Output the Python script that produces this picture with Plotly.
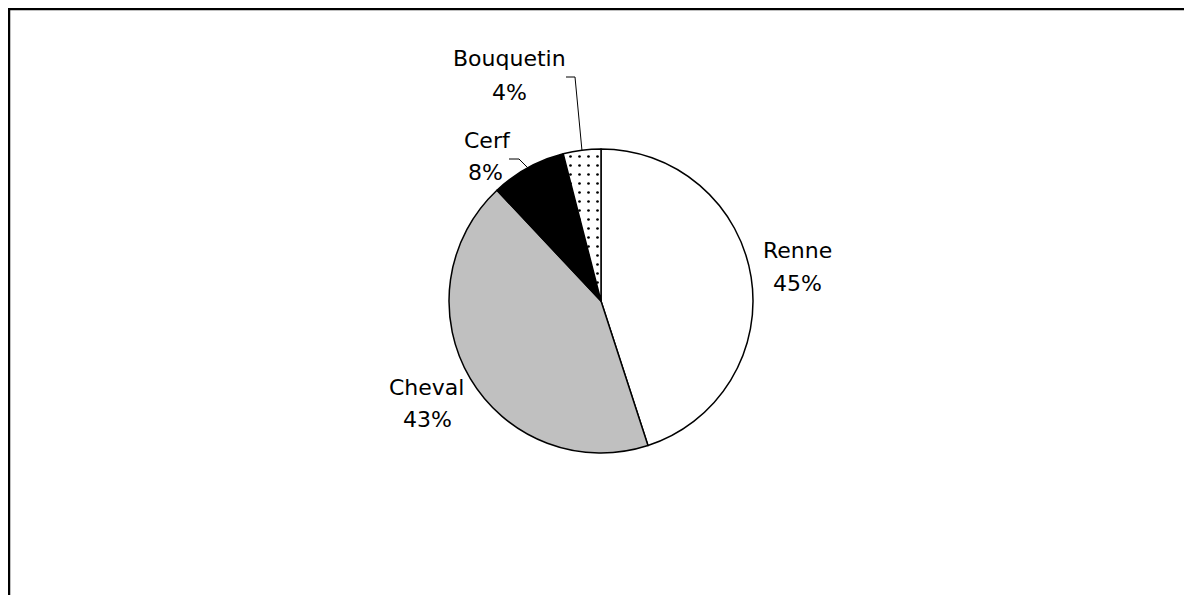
import math
import plotly.graph_objects as go

# ---- data ----
categories = ["Renne", "Cheval", "Cerf", "Bouquetin"]
values = [45, 43, 8, 4]
colors = ["#ffffff", "#c0c0c0", "#000000", "#ffffff"]
patterns = ["", "", "", "."]

W, H = 1192, 595
OFF = 8  # page body margin: screen px -> paper px
CX, CY, R = 601, 301, 152  # pie centre / radius in screen px


def px(x):
    return (x - OFF) / W


def py(y):
    return 1 - (y - OFF) / H


fig = go.Figure(go.Pie(
    labels=categories,
    values=values,
    sort=False,
    direction="clockwise",
    rotation=0,
    textinfo="none",
    hoverinfo="label+percent",
    marker=dict(
        colors=colors,
        line=dict(color="black", width=1.5),
        pattern=dict(shape=patterns, fgcolor="black", size=9, solidity=0.07),
    ),
    domain=dict(x=[px(CX - R), px(CX + R)], y=[py(CY + R), py(CY - R)]),
    showlegend=False,
))

# label positions (screen px): name centre, percent centre
label_pos = {
    "Renne": ((797, 250), (797, 283)),
    "Cheval": ((426, 387), (427, 419)),
    "Cerf": ((487, 140), (485, 172)),
    "Bouquetin": ((509, 58), (509, 93)),
}
font = dict(family="DejaVu Sans, Arial, sans-serif", size=22, color="black")
total = sum(values)
annotations = []
for cat, v in zip(categories, values):
    (nx, ny), (vx, vy) = label_pos[cat]
    pct = round(100 * v / total)
    annotations.append(dict(x=px(nx), y=py(ny), xref="paper", yref="paper",
                            text=cat, showarrow=False, font=font,
                            xanchor="center", yanchor="middle"))
    annotations.append(dict(x=px(vx), y=py(vy), xref="paper", yref="paper",
                            text=f"{pct}%", showarrow=False, font=font,
                            xanchor="center", yanchor="middle"))

# leader lines for small slices, ending at slice mid-angle on the rim
shapes = []
cum = 0
leader_start = {"Cerf": ((509, 159), (519, 159)), "Bouquetin": ((566, 77), (575, 77))}
for cat, v in zip(categories, values):
    mid = (cum + v / 2) / total * 2 * math.pi
    cum += v
    if cat in leader_start:
        ex = CX + R * math.sin(mid)
        ey = CY - R * math.cos(mid)
        (ax, ay), (bx, by) = leader_start[cat]
        path = f"M {px(ax)},{py(ay)} L {px(bx)},{py(by)} L {px(ex)},{py(ey)}"
        shapes.append(dict(type="path", xref="paper", yref="paper", path=path,
                           line=dict(color="black", width=1)))

# outer chart border (top & left visible)
shapes.append(dict(type="rect", xref="paper", yref="paper",
                   x0=px(9), y0=-0.1, x1=1.1, y1=py(9),
                   line=dict(color="black", width=2.5)))

fig.update_layout(
    width=W, height=H,
    margin=dict(l=0, r=0, t=0, b=0),
    paper_bgcolor="white",
    plot_bgcolor="white",
    annotations=annotations,
    shapes=shapes,
)

fig.write_html("out.html")
